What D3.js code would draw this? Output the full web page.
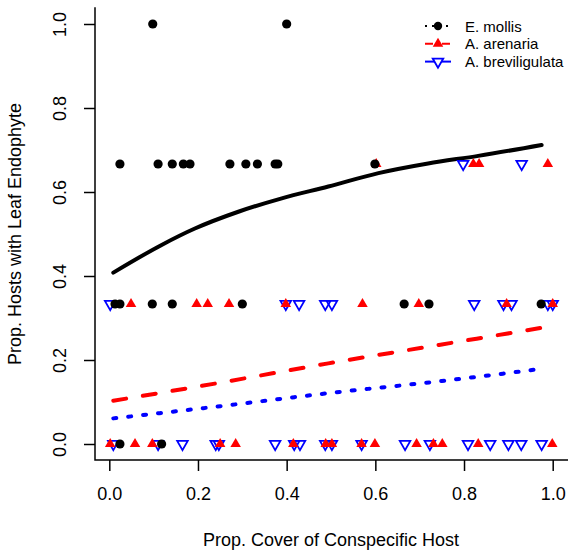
<!DOCTYPE html>
<html>
<head>
<meta charset="utf-8">
<script src="https://cdn.jsdelivr.net/npm/d3@7"></script>
<style>
  body { margin: 0; background: #fff; }
  text { font-family: "Liberation Sans", Arial, sans-serif; fill: #000; }
</style>
</head>
<body>
<div id="chart"></div>
<script>
// Endophyte prevalence vs. conspecific host cover (three host species)

const species = ["E. mollis", "A. arenaria", "A. breviligulata"];

// Observed points: x = prop. cover, y = prop. hosts infected
const mollisX = [0.098, 0.40,
  0.024, 0.11, 0.142, 0.167, 0.182, 0.272, 0.308, 0.334, 0.374, 0.38, 0.599,
  0.013, 0.024, 0.097, 0.142, 0.30, 0.665, 0.721, 0.974,
  0.024, 0.118];
const mollisY = [1, 1,
  2/3, 2/3, 2/3, 2/3, 2/3, 2/3, 2/3, 2/3, 2/3, 2/3, 2/3,
  1/3, 1/3, 1/3, 1/3, 1/3, 1/3, 1/3, 1/3,
  0, 0];

const arenariaX = [0.602, 0.821, 0.834, 0.989,
  0.049, 0.197, 0.222, 0.27, 0.398, 0.571, 0.698, 0.896, 1.0,
  0.002, 0.058, 0.097, 0.25, 0.285, 0.415, 0.488, 0.502, 0.569, 0.599, 0.693, 0.731, 0.751, 0.832, 0.999];
const arenariaY = [2/3, 2/3, 2/3, 2/3,
  1/3, 1/3, 1/3, 1/3, 1/3, 1/3, 1/3, 1/3, 1/3,
  0, 0, 0, 0, 0, 0, 0, 0, 0, 0, 0, 0, 0, 0, 0];

const breviX = [0.798, 0.93,
  0.002, 0.398, 0.428, 0.487, 0.502, 0.823, 0.889, 0.907, 0.989, 1.0,
  0.009, 0.11, 0.165, 0.24, 0.247, 0.374, 0.417, 0.43, 0.487, 0.502, 0.569, 0.667, 0.723, 0.809, 0.859, 0.9, 0.929, 0.975];
const breviY = [2/3, 2/3,
  1/3, 1/3, 1/3, 1/3, 1/3, 1/3, 1/3, 1/3, 1/3, 1/3,
  0, 0, 0, 0, 0, 0, 0, 0, 0, 0, 0, 0, 0, 0, 0, 0, 0, 0];

// Fitted curves
const mollisFitX = [0.009, 0.118, 0.193, 0.291, 0.389, 0.494, 0.607, 0.719, 0.832, 0.975];
const mollisFitY = [0.408, 0.474, 0.513, 0.553, 0.585, 0.613, 0.645, 0.668, 0.686, 0.712];
const arenariaFitX = [0.009, 0.25, 0.494, 0.75, 1.0];
const arenariaFitY = [0.103, 0.146, 0.192, 0.237, 0.281];
const breviFitX = [0.009, 0.25, 0.494, 0.75, 0.975];
const breviFitY = [0.061, 0.090, 0.121, 0.150, 0.179];

const ticks = [0, 0.2, 0.4, 0.6, 0.8, 1.0];

const width = 568;
const height = 554;

const svg = d3.select("#chart")
  .append("svg")
  .attr("width", width)
  .attr("height", height);

// Scales (R-style 4% padding)
const xScale = d3.scaleLinear()
  .domain([0, 1])
  .range([109.3, 552.7]);

const yScale = d3.scaleLinear()
  .domain([-0.04, 1.04])
  .range([460.8, 7.2]);

const left = 95;
const bottom = 460;

// L-shaped box
svg.append("path")
  .attr("d", `M${left},${yScale(1.04)}V${bottom}H${width}`)
  .attr("fill", "none")
  .attr("stroke", "#000")
  .attr("stroke-width", 1.5);

// Axes
const xAxis = svg.append("g")
  .attr("transform", `translate(0,${bottom})`)
  .call(d3.axisBottom(xScale).tickValues(ticks).tickSize(11).tickPadding(16)
    .tickFormat(d3.format(".1f")));

const yAxis = svg.append("g")
  .attr("transform", `translate(${left},0)`)
  .call(d3.axisLeft(yScale).tickValues(ticks).tickSize(11).tickPadding(0)
    .tickFormat(d3.format(".1f")));

[xAxis, yAxis].forEach(g => {
  g.select(".domain").remove();
  g.selectAll(".tick line").attr("stroke", "#000").attr("stroke-width", 1.5);
  g.selectAll(".tick text")
    .attr("font-size", 18)
    .attr("font-family", "Liberation Sans, Arial, sans-serif")
    .attr("fill", "#000");
});

xAxis.selectAll(".tick text").attr("dy", "0.71em");

// vertical y tick labels
yAxis.selectAll(".tick text")
  .attr("text-anchor", "middle")
  .attr("x", 0)
  .attr("dy", 0)
  .attr("transform", "translate(-35,0) rotate(-90) translate(0,6)");

// Axis titles
svg.append("text")
  .attr("x", (xScale(0) + xScale(1)) / 2)
  .attr("y", 546)
  .attr("text-anchor", "middle")
  .attr("font-size", 18)
  .text("Prop. Cover of Conspecific Host");

svg.append("text")
  .attr("transform", `translate(21,${yScale(0.5)}) rotate(-90)`)
  .attr("text-anchor", "middle")
  .attr("font-size", 18)
  .text("Prop. Hosts with Leaf Endophyte");

// Fitted lines
const line = d3.line()
  .x(d => xScale(d[0]))
  .y(d => yScale(d[1]))
  .curve(d3.curveMonotoneX);

svg.append("path")
  .datum(mollisFitX.map((x, i) => [x, mollisFitY[i]]))
  .attr("d", line)
  .attr("fill", "none")
  .attr("stroke", "#000")
  .attr("stroke-width", 4)
  .attr("stroke-linecap", "round");

svg.append("path")
  .datum(arenariaFitX.map((x, i) => [x, arenariaFitY[i]]))
  .attr("d", line)
  .attr("fill", "none")
  .attr("stroke", "#ff0000")
  .attr("stroke-width", 4)
  .attr("stroke-linecap", "round")
  .attr("stroke-dasharray", "13,17");

svg.append("path")
  .datum(breviFitX.map((x, i) => [x, breviFitY[i]]))
  .attr("d", line)
  .attr("fill", "none")
  .attr("stroke", "#0000ff")
  .attr("stroke-width", 4)
  .attr("stroke-linecap", "round")
  .attr("stroke-dasharray", "3,12");

// Markers
const upTri = d3.symbol().type(d3.symbolTriangle).size(48);

svg.selectAll(".brevi")
  .data(breviX.map((x, i) => [x, breviY[i]]))
  .enter()
  .append("path")
  .attr("class", "brevi")
  .attr("d", upTri)
  .attr("transform", d => `translate(${xScale(d[0])},${yScale(d[1])}) rotate(180)`)
  .attr("fill", "none")
  .attr("stroke", "#0000ff")
  .attr("stroke-width", 1.8);

svg.selectAll(".arenaria")
  .data(arenariaX.map((x, i) => [x, arenariaY[i]]))
  .enter()
  .append("path")
  .attr("class", "arenaria")
  .attr("d", upTri)
  .attr("transform", d => `translate(${xScale(d[0])},${yScale(d[1])})`)
  .attr("fill", "#ff0000");

svg.selectAll(".mollis")
  .data(mollisX.map((x, i) => [x, mollisY[i]]))
  .enter()
  .append("circle")
  .attr("class", "mollis")
  .attr("cx", d => xScale(d[0]))
  .attr("cy", d => yScale(d[1]))
  .attr("r", 4.6)
  .attr("fill", "#000");

// Legend
const legendStyle = [
  { color: "#000", dash: "2,5", width: 2 },
  { color: "#ff0000", dash: "8,9", width: 2 },
  { color: "#0000ff", dash: null, width: 2 }
];

const legend = svg.append("g").attr("transform", "translate(425,26)");

species.forEach((name, i) => {
  const row = legend.append("g").attr("transform", `translate(0,${i * 17.8})`);
  const st = legendStyle[i];
  row.append("line")
    .attr("x1", 0).attr("x2", 26)
    .attr("y1", 0).attr("y2", 0)
    .attr("stroke", st.color)
    .attr("stroke-width", st.width)
    .attr("stroke-dasharray", st.dash);
  if (i === 0) {
    row.append("circle").attr("cx", 13).attr("cy", 0).attr("r", 4.2).attr("fill", "#000");
  } else if (i === 1) {
    row.append("path").attr("d", upTri).attr("transform", "translate(13,0)").attr("fill", "#ff0000");
  } else {
    row.append("path").attr("d", upTri).attr("transform", "translate(13,0) rotate(180)")
      .attr("fill", "#fff").attr("stroke", "#0000ff").attr("stroke-width", 1.8);
  }
  row.append("text")
    .attr("x", 40)
    .attr("y", 5.5)
    .attr("font-size", 15)
    .text(name);
});
</script>
</body>
</html>
